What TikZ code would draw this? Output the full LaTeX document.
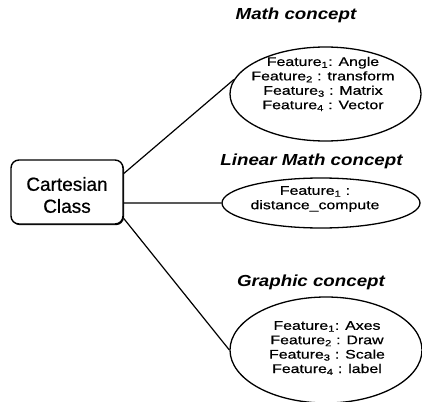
\documentclass[tikz,border=0pt]{standalone}
\usepackage{fontspec}
\setmainfont{Liberation Sans}
\newfontfamily\cartfont[FakeBold=0.6]{Liberation Sans}
\newfontfamily\featfont[FakeStretch=1.27,FakeBold=0.6]{Liberation Sans}
\newfontfamily\titlefont[FakeStretch=1.17]{Liberation Sans}
\usetikzlibrary{shapes.geometric,shadows}
\begin{document}
\begin{tikzpicture}[x=1pt,y=-1pt,
  cbox/.style={draw, line width=1.4pt, rounded corners=8pt, fill=white,
    minimum width=112pt, minimum height=64pt, inner sep=0pt,
    drop shadow={shadow xshift=1pt, shadow yshift=-1.2pt, fill=black, opacity=1}},
  cbtext/.style={inner sep=0pt, align=center, font=\cartfont\fontsize{19}{22}\selectfont},
  concept/.style={draw, ellipse, line width=1.3pt, inner sep=0pt},
  feat/.style={inner sep=0pt, anchor=north, align=center, font=\featfont\fontsize{12.5}{14.4}\selectfont},
  ttl/.style={inner sep=0pt, anchor=base, font=\titlefont\bfseries\itshape\fontsize{16}{18}\selectfont},
  link/.style={line width=1.2pt}]
\useasboundingbox (0,0) rectangle (422,401);

\node[cbox] (cart) at (67,192) {};
\node[cbtext] (carttext) at (67,195) {Cartesian\\Class};

\node[concept, minimum width=191pt, minimum height=94pt] (math) at (325.5,94) {};
\node[concept, minimum width=198pt, minimum height=50pt] (lin) at (321,203) {};
\node[concept, minimum width=192pt, minimum height=106pt] (gra) at (326,350) {};

\node[ttl] (mathttl) at (296,20) {Math concept};
\node[ttl] (linttl) at (311.5,165) {Linear Math concept};
\node[ttl] (grattl) at (311,286.7) {Graphic concept};

\node[feat] (mathfeat) at (323,56.7) {Feature\textsubscript{1}: Angle\\Feature\textsubscript{2} : transform\\Feature\textsubscript{3} : Matrix\\Feature\textsubscript{4} : Vector};
\node[feat] (linfeat) at (315,186) {Feature\textsubscript{1} :\\distance\_compute};
\node[feat] (grafeat) at (327,321) {Feature\textsubscript{1}: Axes\\Feature\textsubscript{2} : Draw\\Feature\textsubscript{3} : Scale\\Feature\textsubscript{4} : label};

\draw[link] (cart.18.7) -- (math.171);
\draw[link] (cart.349) -- (lin.west);
\draw[link] (cart.335) -- (gra.west);
\end{tikzpicture}
\end{document}
